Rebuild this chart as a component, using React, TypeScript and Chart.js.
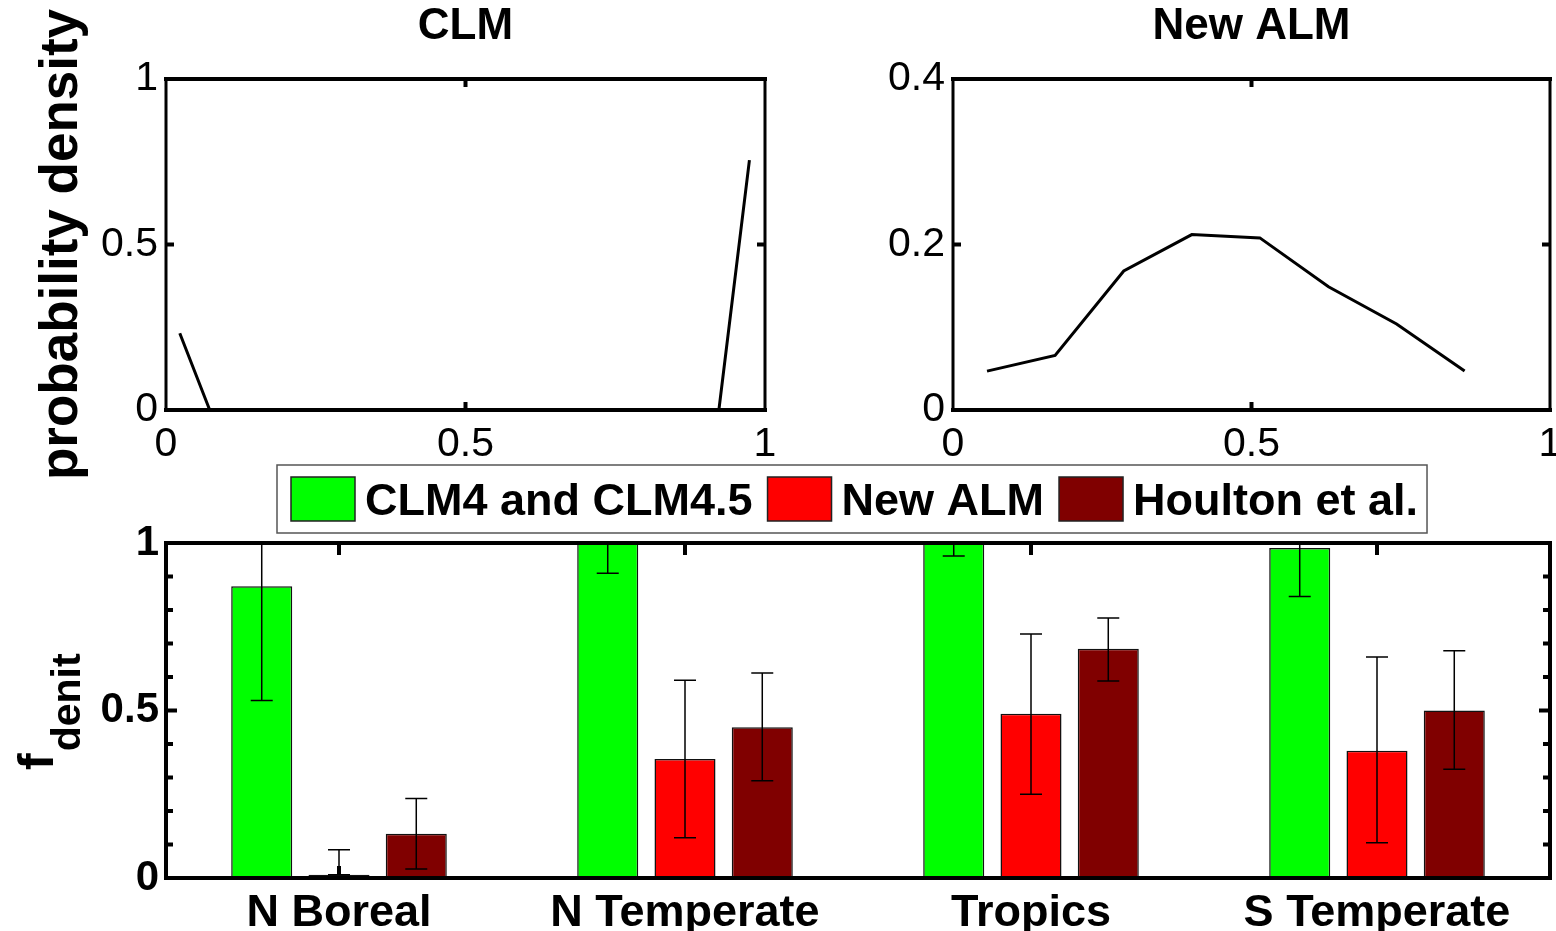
import React, { useEffect, useRef } from "react";
import { Chart, registerables } from "chart.js";
Chart.register(...registerables);

const FONT = "'Liberation Sans', Arial, Helvetica, sans-serif";

// ---- Top-left panel: CLM probability density ----
const clmDensX = [0.023, 0.073, 0.923, 0.974];
const clmDensY = [0.232, 0, 0, 0.755];

// ---- Top-right panel: New ALM probability density ----
const almDensX = [0.057, 0.171, 0.286, 0.4, 0.514, 0.629, 0.743, 0.857];
const almDensY = [0.047, 0.066, 0.168, 0.212, 0.208, 0.149, 0.104, 0.047];

// ---- Bottom panel: f_denit by region ----
const regions = ["N Boreal", "N Temperate", "Tropics", "S Temperate"];
const seriesNames = ["CLM4 and CLM4.5", "New ALM", "Houlton et al."];
const clmVals = [0.871, 1.0, 1.0, 0.985];
const clmLo = [0.53, 0.91, 0.961, 0.84];
const clmHi = [1.2, 1.1, 1.05, 1.13];
const almVals = [0.01, 0.355, 0.49, 0.38];
const almLo = [0.01, 0.12, 0.25, 0.105];
const almHi = [0.084, 0.59, 0.728, 0.66];
const houVals = [0.132, 0.45, 0.684, 0.5];
const houLo = [0.027, 0.29, 0.588, 0.325];
const houHi = [0.237, 0.612, 0.776, 0.678];

const topXTicks = [0.5];
const clmYTicks = [0.5];
const almYTicks = [0.2];
const barYMinor = [0.1, 0.2, 0.3, 0.4, 0.6, 0.7, 0.8, 0.9];
const barYMajor = [0.5];

const fmt = (v: any) => String(Math.round(Number(v) * 1000) / 1000);

const framePlugin = {
  id: "frame",
  beforeDatasetsDraw(chart: any, _a: any, opts: any) {
    const { ctx, chartArea: a, scales } = chart;
    ctx.save();
    ctx.strokeStyle = "#000";
    ctx.lineWidth = 4;
    ctx.lineCap = "butt";
    const xs = scales.x;
    const ys = scales.y;
    (opts.xTicks || []).forEach((v: number) => {
      const px = xs.getPixelForValue(v);
      ctx.beginPath();
      ctx.moveTo(px, a.top);
      ctx.lineTo(px, a.top + opts.xLen);
      ctx.moveTo(px, a.bottom);
      ctx.lineTo(px, a.bottom - opts.xLen);
      ctx.stroke();
    });
    (opts.yTicks || []).forEach((v: number) => {
      const py = ys.getPixelForValue(v);
      ctx.beginPath();
      ctx.moveTo(a.left, py);
      ctx.lineTo(a.left + opts.yLen, py);
      ctx.moveTo(a.right, py);
      ctx.lineTo(a.right - opts.yLen, py);
      ctx.stroke();
    });
    (opts.yMinor || []).forEach((v: number) => {
      const py = ys.getPixelForValue(v);
      ctx.beginPath();
      ctx.moveTo(a.left, py);
      ctx.lineTo(a.left + opts.minorLen, py);
      ctx.moveTo(a.right, py);
      ctx.lineTo(a.right - opts.minorLen, py);
      ctx.stroke();
    });
    ctx.restore();
  },
  afterDatasetsDraw(chart: any, _a: any, opts: any) {
    const { ctx, chartArea: a } = chart;
    ctx.save();
    ctx.strokeStyle = "#000";
    ctx.lineCap = "square";
    ctx.lineWidth = opts.lrWidth;
    ctx.beginPath();
    ctx.moveTo(a.left, a.top);
    ctx.lineTo(a.left, a.bottom);
    ctx.moveTo(a.right, a.top);
    ctx.lineTo(a.right, a.bottom);
    ctx.stroke();
    ctx.lineWidth = opts.tbWidth;
    ctx.beginPath();
    ctx.moveTo(a.left, a.top);
    ctx.lineTo(a.right, a.top);
    ctx.moveTo(a.left, a.bottom);
    ctx.lineTo(a.right, a.bottom);
    ctx.stroke();
    ctx.restore();
  },
};

const errorBarPlugin = {
  id: "errbars",
  afterDatasetsDraw(chart: any) {
    const { ctx, chartArea: a } = chart;
    const ys = chart.scales.y;
    ctx.save();
    ctx.beginPath();
    ctx.rect(a.left, a.top, a.right - a.left, a.bottom - a.top);
    ctx.clip();
    ctx.strokeStyle = "#000";
    ctx.lineWidth = 1.5;
    chart.data.datasets.forEach((ds: any, di: number) => {
      const meta = chart.getDatasetMeta(di);
      meta.data.forEach((bar: any, i: number) => {
        const x = bar.x;
        const yl = ys.getPixelForValue(ds.errLo[i]);
        const yh = ys.getPixelForValue(ds.errHi[i]);
        const cw = 11;
        ctx.beginPath();
        ctx.moveTo(x, yl);
        ctx.lineTo(x, yh);
        ctx.moveTo(x - cw, yl);
        ctx.lineTo(x + cw, yl);
        ctx.moveTo(x - cw, yh);
        ctx.lineTo(x + cw, yh);
        ctx.stroke();
      });
    });
    ctx.restore();
  },
};

const boxLegendPlugin = {
  id: "boxLegend",
  afterDraw(chart: any, _a: any, opts: any) {
    const { ctx } = chart;
    ctx.save();
    ctx.font = `bold ${opts.fontSize}px ${FONT}`;
    ctx.textBaseline = "alphabetic";
    ctx.textAlign = "left";
    let x = opts.left + 14;
    const top = opts.top;
    const h = opts.height;
    const sw = 64;
    const sh = 44;
    const cy = top + h / 2;
    chart.data.datasets.forEach((ds: any, i: number) => {
      ctx.fillStyle = ds.backgroundColor;
      ctx.fillRect(x, cy - sh / 2, sw, sh);
      ctx.strokeStyle = "#222";
      ctx.lineWidth = 1.5;
      ctx.strokeRect(x, cy - sh / 2, sw, sh);
      x += sw + 10;
      ctx.fillStyle = "#000";
      ctx.fillText(ds.label, x, cy + 0.358 * opts.fontSize);
      x += ctx.measureText(ds.label).width;
      if (i < chart.data.datasets.length - 1) x += 15;
    });
    const right = x + 9;
    ctx.strokeStyle = "#555";
    ctx.lineWidth = 1.5;
    ctx.strokeRect(opts.left, top, right - opts.left, h);
    ctx.restore();
  },
};

const subLabelPlugin = {
  id: "subLabel",
  afterDraw(chart: any, _a: any, opts: any) {
    const { ctx } = chart;
    ctx.save();
    ctx.fillStyle = "#000";
    ctx.textAlign = "left";
    ctx.textBaseline = "alphabetic";
    ctx.translate(opts.x, opts.y);
    ctx.rotate(-Math.PI / 2);
    ctx.font = `bold 50px ${FONT}`;
    ctx.fillText(opts.main, 0, 0);
    const w = ctx.measureText(opts.main).width;
    ctx.font = `bold 41px ${FONT}`;
    ctx.fillText(opts.sub, w + 2, 27);
    ctx.restore();
  },
};

function densityConfig(xs: number[], ys: number[], title: string, yMax: number, yStep: number, yWidth: number, rightPad: number, yTicks: number[], yTitle: string | null) {
  return {
    type: "line",
    data: {
      datasets: [
        {
          data: xs.map((x, i) => ({ x, y: ys[i] })),
          borderColor: "#000",
          borderWidth: 3,
          pointRadius: 0,
          tension: 0,
          fill: false,
        },
      ],
    },
    options: {
      responsive: false,
      animation: false,
      layout: { padding: { left: 0, right: rightPad, top: 0, bottom: 0 } },
      plugins: {
        legend: { display: false },
        tooltip: { enabled: false },
        title: {
          display: true,
          text: title,
          fullSize: false,
          color: "#000",
          font: { family: FONT, size: 44, weight: "bold" },
          padding: { top: 0, bottom: 26.2 },
        },
        frame: { xTicks: topXTicks, yTicks, xLen: 8, yLen: 8, lrWidth: 3, tbWidth: 4 },
      },
      scales: {
        x: {
          type: "linear",
          min: 0,
          max: 1,
          ticks: { stepSize: 0.5, color: "#000", padding: 10, maxRotation: 0, callback: fmt, font: { family: FONT, size: 41 } },
          grid: { display: false, drawTicks: false },
          border: { display: false },
          afterFit: (s: any) => { s.height = 80; },
        },
        y: {
          min: 0,
          max: yMax,
          ticks: { stepSize: yStep, color: "#000", padding: 8, callback: fmt, font: { family: FONT, size: 41 } },
          grid: { display: false, drawTicks: false },
          border: { display: false },
          title: yTitle
            ? { display: true, text: yTitle, color: "#000", font: { family: FONT, size: 53, weight: "bold" }, padding: { top: 31, bottom: 0 } }
            : { display: false },
          afterFit: (s: any) => { s.width = yWidth; },
        },
      },
    },
    plugins: [framePlugin],
  };
}

function useChart(ref: any, makeConfig: () => any) {
  useEffect(() => {
    const chart = new Chart(ref.current, makeConfig());
    return () => chart.destroy();
  }, []);
}

export default function App() {
  const c1 = useRef<HTMLCanvasElement>(null);
  const c2 = useRef<HTMLCanvasElement>(null);
  const c3 = useRef<HTMLCanvasElement>(null);

  useChart(c1, () => densityConfig(clmDensX, clmDensY, "CLM", 1, 0.5, 166, 25, clmYTicks, "probability density"));
  useChart(c2, () => densityConfig(almDensX, almDensY, "New ALM", 0.4, 0.2, 173, 30, almYTicks, null));
  useChart(c3, () => ({
    type: "bar",
    data: {
      labels: regions,
      datasets: [
        { label: seriesNames[0], data: clmVals, errLo: clmLo, errHi: clmHi, backgroundColor: "#00ff00" },
        { label: seriesNames[1], data: almVals, errLo: almLo, errHi: almHi, backgroundColor: "#ff0000" },
        { label: seriesNames[2], data: houVals, errLo: houLo, errHi: houHi, backgroundColor: "#800000" },
      ].map((d) => ({ ...d, borderColor: "#111", borderWidth: 1.5, categoryPercentage: 0.67, barPercentage: 0.79 })),
    },
    options: {
      responsive: false,
      animation: false,
      layout: { padding: { left: 0, right: 6, top: 103, bottom: 0 } },
      plugins: {
        legend: { display: false },
        tooltip: { enabled: false },
        frame: { xTicks: [0, 1, 2, 3], yTicks: barYMajor, yMinor: barYMinor, xLen: 12, yLen: 11, minorLen: 7, lrWidth: 4, tbWidth: 4 },
        boxLegend: { left: 277, top: 25, height: 68, fontSize: 45 },
        subLabel: { x: 53, y: 330, main: "f", sub: "denit" },
      },
      scales: {
        x: {
          type: "category",
          offset: true,
          ticks: { color: "#000", padding: 9, maxRotation: 0, autoSkip: false, font: { family: FONT, size: 45, weight: "bold" } },
          grid: { display: false, drawTicks: false },
          border: { display: false },
          afterFit: (s: any) => { s.height = 53; },
        },
        y: {
          min: 0,
          max: 1,
          ticks: { stepSize: 0.5, color: "#000", padding: 7, callback: fmt, font: { family: FONT, size: 42, weight: "bold" } },
          grid: { display: false, drawTicks: false },
          border: { display: false },
          afterFit: (s: any) => { s.width = 166; },
        },
      },
    },
    plugins: [errorBarPlugin, framePlugin, boxLegendPlugin, subLabelPlugin],
  }));

  return (
    <div style={{ position: "fixed", left: 0, top: 0, width: 1556, height: 931, overflow: "hidden", background: "#fff" }}>
      <canvas ref={c1} width={790} height={490} style={{ position: "absolute", left: 0, top: 0 }} />
      <canvas ref={c2} width={800} height={490} style={{ position: "absolute", left: 780, top: 0 }} />
      <canvas ref={c3} width={1556} height={491} style={{ position: "absolute", left: 0, top: 440 }} />
    </div>
  );
}
